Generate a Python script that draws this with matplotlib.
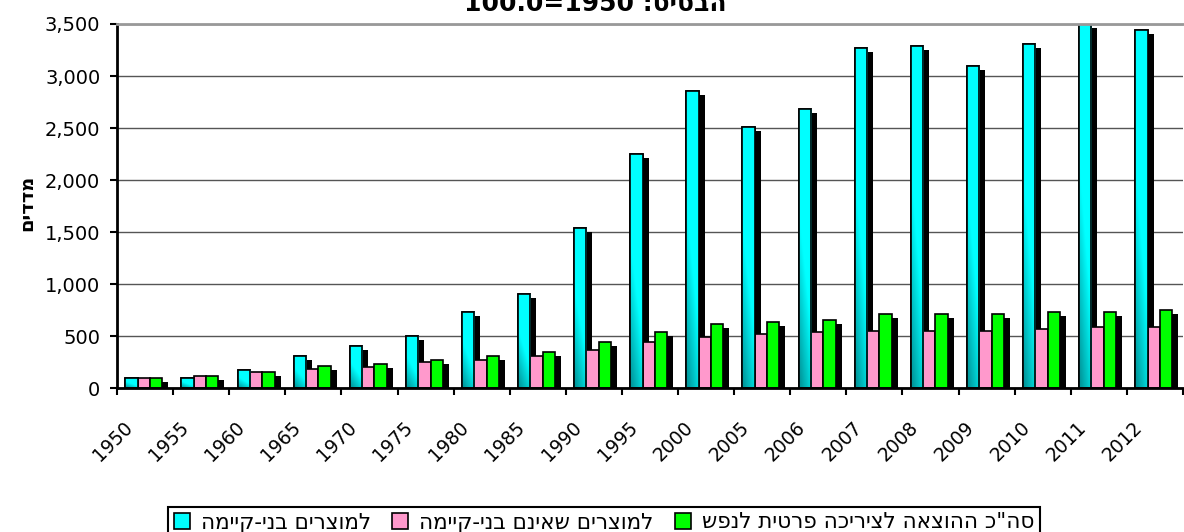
import matplotlib
matplotlib.use("Agg")
import matplotlib.pyplot as plt
import matplotlib.patheffects as pe
from matplotlib.colors import LinearSegmentedColormap
from matplotlib.patches import Rectangle
from matplotlib.ticker import FuncFormatter
import numpy as np

plt.rcParams['font.family'] = ['DejaVu Sans', 'Liberation Sans']

# נתונים (מדדים, 1950=100)
years = ['1950', '1955', '1960', '1965', '1970', '1975', '1980', '1985', '1990', '1995',
         '2000', '2005', '2006', '2007', '2008', '2009', '2010', '2011', '2012']
durable = [100, 100, 171, 309, 406, 503, 733, 906, 1543, 2254,
           2854, 2506, 2680, 3268, 3293, 3099, 3309, 3498, 3443]
nondurable = [100, 114, 152, 187, 203, 248, 267, 306, 364, 438,
              492, 518, 534, 548, 548, 548, 568, 587, 590]
total = [100, 119, 155, 213, 232, 268, 309, 347, 444, 540,
         617, 637, 656, 710, 710, 710, 730, 730, 749]

# Hebrew strings in visual order (matplotlib draws left to right)
lbl_durable = 'המייק-ינב םירצומל'
lbl_nondurable = 'המייק-ינב םניאש םירצומל'
lbl_total = 'שפנל תיטרפ הכיריצל האצוהה כ"הס'
title_txt = '100.0=1950 :סיסבה'
ylabel_txt = 'םידדמ'

fig = plt.figure(figsize=(11.84, 5.32), dpi=100)
ax = fig.add_axes([117 / 1184, 1 - 388 / 532, 1066 / 1184, 364 / 532])

n = len(years)
x = np.arange(n)
w = 0.22
off = 0.148
shadow = [pe.SimplePatchShadow(offset=(4.3, -2.9), shadow_rgbFace='black', alpha=1.0), pe.Normal()]

b1 = ax.bar(x + off, durable, w, align='edge', color='#00FFFF', edgecolor='black',
            linewidth=1.2, zorder=2, label=lbl_durable)
b2 = ax.bar(x + off + w, nondurable, w, align='edge', color='#FF99CC', edgecolor='black',
            linewidth=1.2, zorder=2, label=lbl_nondurable)
b3 = ax.bar(x + off + 2 * w, total, w, align='edge', color='#00FF00', edgecolor='black',
            linewidth=1.2, zorder=2, label=lbl_total)
for bars in (b1, b2, b3):
    for r in bars:
        r.set_path_effects(shadow)

# gradient fill for the cyan bars
cmap = LinearSegmentedColormap.from_list('teal', ['#006a70', '#00FFFF'])
gx, gy = np.meshgrid(np.linspace(0, 1, 16), np.linspace(0, 1, 64))
grad = np.clip(0.25 + 0.5 * gx + 1.2 * gy, 0, 1)
for r in b1:
    x0, bw, bh = r.get_x(), r.get_width(), r.get_height()
    im = ax.imshow(grad, extent=(x0, x0 + bw, 0, bh), origin='lower', cmap=cmap,
                   vmin=0, vmax=1, aspect='auto', interpolation='bilinear', zorder=2.1)
    im.set_clip_path(r)
    ax.add_patch(Rectangle((x0, 0), bw, bh, fill=False, edgecolor='black', linewidth=1.2, zorder=2.2))

ax.set_xlim(0, n)
ax.set_ylim(0, 3500)
ax.set_aspect('auto')

ax.set_yticks(np.arange(0, 3501, 500))
ax.yaxis.set_major_formatter(FuncFormatter(lambda v, p: f'{int(v):,}'))
ax.set_xticks(np.arange(0, n + 1))
ax.set_xticklabels([])
ax.tick_params(axis='both', direction='out', length=5, width=1.5, color='black')
ax.tick_params(axis='y', labelsize=14, pad=7)

for i, yr in enumerate(years):
    ax.text(i + 0.5 - 0.278, -0.1005, yr, rotation=45, ha='right', va='center',
            rotation_mode='anchor', fontsize=13.5, transform=ax.get_xaxis_transform(),
            clip_on=False)

ax.grid(axis='y', color='#555555', linewidth=1.0, zorder=0)
ax.set_axisbelow(True)
ax.spines['right'].set_visible(False)
ax.spines['top'].set_color('#999999')
ax.spines['top'].set_linewidth(2)
ax.spines['left'].set_linewidth(2)
ax.spines['bottom'].set_linewidth(2)

fig.text(595 / 1184, 1 - 11 / 532, title_txt, ha='center', va='baseline',
         fontsize=18, fontweight='bold')
fig.text(27 / 1184, 1 - 203 / 532, ylabel_txt, rotation=90, ha='center', va='center',
         fontsize=14, fontweight='bold')

leg = fig.legend(handles=[b1, b2, b3], loc='upper center', ncol=3,
                 bbox_to_anchor=(604 / 1184, 1 - 507 / 532), fontsize=15.5,
                 frameon=True, fancybox=False, edgecolor='black', framealpha=1,
                 handlelength=0.75, handleheight=0.75, handletextpad=0.5, columnspacing=1.0,
                 borderpad=0.25, borderaxespad=0)
leg.get_frame().set_linewidth(1.5)
for h in leg.legend_handles:
    h.set_path_effects([])

fig.savefig('out.png', dpi=100)
